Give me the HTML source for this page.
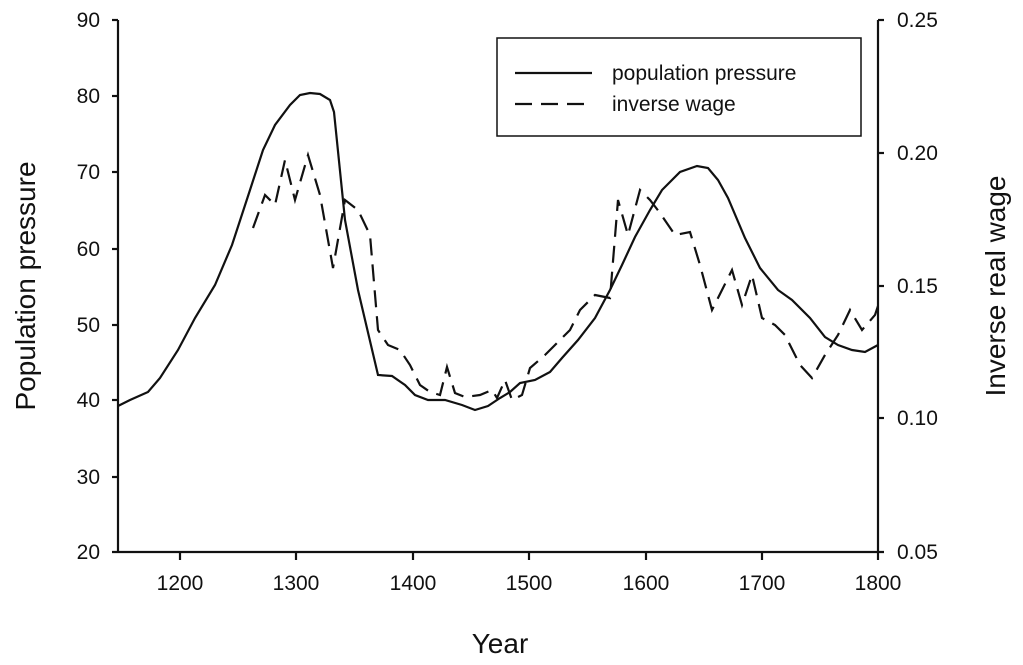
<!DOCTYPE html>
<html><head><style>body{margin:0;background:#fff}svg{display:block}text{font-family:"Liberation Sans",sans-serif;fill:#111}</style></head><body>
<svg width="1023" height="665" viewBox="0 0 1023 665">
<g stroke="#111" stroke-width="2.2" fill="none">
<line x1="118" y1="20" x2="118" y2="552"/>
<line x1="878" y1="20" x2="878" y2="552"/>
<line x1="112" y1="552" x2="884" y2="552"/>
<line x1="112" y1="20" x2="118" y2="20"/><line x1="112" y1="96" x2="118" y2="96"/><line x1="112" y1="172" x2="118" y2="172"/><line x1="112" y1="249" x2="118" y2="249"/><line x1="112" y1="325" x2="118" y2="325"/><line x1="112" y1="400" x2="118" y2="400"/><line x1="112" y1="477" x2="118" y2="477"/>
<line x1="878" y1="20" x2="884" y2="20"/><line x1="878" y1="153" x2="884" y2="153"/><line x1="878" y1="286" x2="884" y2="286"/><line x1="878" y1="418" x2="884" y2="418"/>
<line x1="180" y1="552" x2="180" y2="560"/><line x1="296" y1="552" x2="296" y2="560"/><line x1="413" y1="552" x2="413" y2="560"/><line x1="529" y1="552" x2="529" y2="560"/><line x1="646" y1="552" x2="646" y2="560"/><line x1="762" y1="552" x2="762" y2="560"/><line x1="878" y1="552" x2="878" y2="560"/>
<rect x="497" y="38" width="364" height="98" stroke-width="1.5"/>
<line x1="515" y1="73" x2="592" y2="73"/>
<line x1="515" y1="104" x2="592" y2="104" stroke-dasharray="17,9"/>
<polyline points="118,406 130,400 148,392 160,378 178,350 195,318 215,285 232,245 250,190 263,150 275,125 290,105 300,95 310,93 320,94 330,100 334,112 345,220 358,290 378,375 392,376 405,385 415,395 428,400 445,400 462,405 475,410 488,406 500,398 510,392 520,383 535,380 550,372 562,358 578,340 595,318 610,290 622,265 635,237 650,210 662,190 680,172 697,166 708,168 718,180 728,198 745,238 760,268 778,290 792,300 810,318 825,337 838,345 852,350 865,352 878,345"/>
<polyline stroke-dasharray="17,9" points="253,228 265,195 275,205 285,160 295,200 308,155 320,195 333,268 345,200 358,210 370,235 378,330 388,345 400,350 410,365 420,385 430,392 440,395 447,367 455,393 465,397 480,395 492,390 497,398 505,380 512,400 522,395 530,368 545,355 555,345 570,330 580,310 595,295 610,298 618,200 628,235 640,190 650,200 660,213 675,235 690,232 700,265 712,310 722,290 732,270 742,305 752,275 762,318 775,325 785,335 800,365 812,378 825,355 838,335 850,310 862,330 875,315 880,300"/>
</g>
<g font-size="21" text-anchor="end">
<text x="100" y="27">90</text><text x="100" y="103">80</text><text x="100" y="179">70</text><text x="100" y="256">60</text><text x="100" y="332">50</text><text x="100" y="407">40</text><text x="100" y="484">30</text><text x="100" y="559">20</text>
</g>
<g font-size="21" text-anchor="start">
<text x="897" y="27">0.25</text><text x="897" y="160">0.20</text><text x="897" y="293">0.15</text><text x="897" y="425">0.10</text><text x="897" y="559">0.05</text>
</g>
<g font-size="21" text-anchor="middle">
<text x="180" y="590">1200</text><text x="296" y="590">1300</text><text x="413" y="590">1400</text><text x="529" y="590">1500</text><text x="646" y="590">1600</text><text x="762" y="590">1700</text><text x="878" y="590">1800</text>
</g>
<text x="500" y="653" font-size="28" text-anchor="middle">Year</text>
<text transform="translate(35,286) rotate(-90)" font-size="28" text-anchor="middle">Population pressure</text>
<text transform="translate(1005,286) rotate(-90)" font-size="28" text-anchor="middle">Inverse real wage</text>
<text x="612" y="80" font-size="21">population pressure</text>
<text x="612" y="111" font-size="21">inverse wage</text>
</svg>
</body></html>
